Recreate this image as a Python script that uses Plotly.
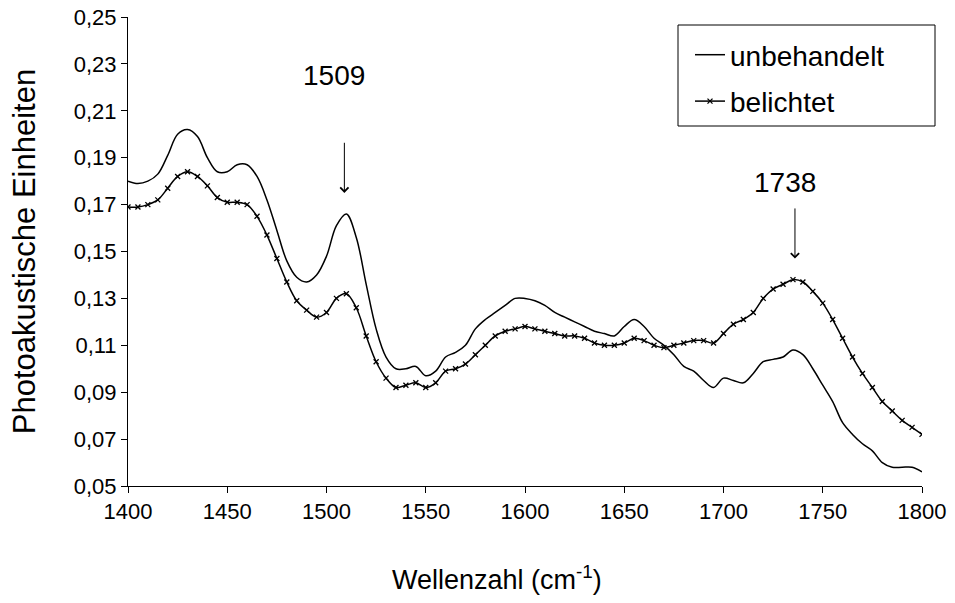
import plotly.graph_objects as go

wavenumber = list(range(1400, 1801, 5))

unbehandelt = [
    0.180, 0.179, 0.180, 0.183, 0.191, 0.200, 0.202, 0.199, 0.190, 0.184,
    0.184, 0.187, 0.187, 0.182, 0.172, 0.159, 0.146, 0.139, 0.137, 0.140,
    0.148, 0.161, 0.166, 0.156, 0.136, 0.117, 0.105, 0.100, 0.100, 0.101,
    0.097, 0.099, 0.105, 0.107, 0.110, 0.117, 0.121, 0.124, 0.127, 0.130,
    0.130, 0.129, 0.127, 0.124, 0.122, 0.120, 0.118, 0.116, 0.115, 0.114,
    0.118, 0.121, 0.118, 0.113, 0.110, 0.106, 0.101, 0.099, 0.095, 0.092,
    0.096, 0.095, 0.094, 0.098, 0.103, 0.104, 0.105, 0.108, 0.106, 0.100,
    0.093, 0.086, 0.077, 0.072, 0.068, 0.065, 0.060, 0.058, 0.058, 0.058,
    0.056,
]

belichtet = [
    0.169, 0.169, 0.170, 0.172, 0.177, 0.182, 0.184, 0.182, 0.178, 0.173,
    0.171, 0.171, 0.170, 0.165, 0.157, 0.147, 0.137, 0.129, 0.125, 0.122,
    0.124, 0.130, 0.132, 0.126, 0.114, 0.103, 0.096, 0.092, 0.093, 0.094,
    0.092, 0.094, 0.099, 0.100, 0.102, 0.106, 0.110, 0.114, 0.116, 0.117,
    0.118, 0.117, 0.116, 0.115, 0.114, 0.114, 0.113, 0.111, 0.110, 0.110,
    0.111, 0.113, 0.112, 0.110, 0.109, 0.110, 0.111, 0.112, 0.112, 0.111,
    0.115, 0.119, 0.121, 0.124, 0.130, 0.134, 0.136, 0.138, 0.137, 0.133,
    0.128, 0.121, 0.113, 0.105, 0.098, 0.092, 0.086, 0.082, 0.078, 0.075,
    0.072,
]

x_ticks = [1400, 1450, 1500, 1550, 1600, 1650, 1700, 1750, 1800]
y_ticks = [0.05, 0.07, 0.09, 0.11, 0.13, 0.15, 0.17, 0.19, 0.21, 0.23, 0.25]

peaks = [1509, 1736]
peak_labels = ["1509", "1738"]
arrow_tips = [0.175, 0.147]
arrow_tails = [0.197, 0.169]
label_y = [0.225, 0.1795]

FONT = "Liberation Sans, Arial, sans-serif"

fig = go.Figure()
fig.add_trace(go.Scatter(
    x=wavenumber, y=unbehandelt, name="unbehandelt", mode="lines",
    line=dict(color="black", width=1.5, shape="spline"),
    legendgroup="a",
))
fig.add_trace(go.Scatter(
    x=wavenumber, y=belichtet, name="belichtet", mode="lines+markers",
    line=dict(color="black", width=1.5, shape="spline"),
    marker=dict(symbol="x-thin", size=5, line=dict(color="black", width=1.3)),
    legendgroup="b",
))

for px, lab, tip, tail, ly in zip(peaks, peak_labels, arrow_tips, arrow_tails, label_y):
    fig.add_annotation(x=px, y=ly, text=lab, showarrow=False,
                       font=dict(size=28, color="black", family=FONT),
                       xshift=-10)
    fig.add_annotation(x=px, y=tip, ax=px, ay=tail, axref="x", ayref="y",
                       text="", showarrow=True, arrowhead=4, arrowsize=1.6,
                       arrowwidth=1, arrowcolor="black")

fig.add_annotation(
    xref="paper", yref="paper", x=0.465, y=-0.196,
    xanchor="center", yanchor="middle", showarrow=False,
    text="Wellenzahl (cm<sup>-1</sup>)",
    font=dict(size=27, color="black", family=FONT),
)

# legend frame
fig.add_shape(
    type="rect", xref="paper", yref="paper",
    x0=(678 - 128) / 794, x1=(935 - 128) / 794,
    y0=(486 - 126) / 469, y1=(486 - 25) / 469,
    line=dict(color="black", width=1), fillcolor="white", layer="above",
)

fig.update_layout(
    width=955, height=603,
    margin=dict(l=128, r=33, t=17, b=117, autoexpand=False),
    paper_bgcolor="white", plot_bgcolor="white",
    separators=",.",
    font=dict(family=FONT, size=22, color="black"),
    showlegend=True,
    legend=dict(
        x=(690 - 128) / 794, y=(486 - 30) / 469, xanchor="left", yanchor="top",
        borderwidth=0, bgcolor="rgba(0,0,0,0)",
        font=dict(size=28, family=FONT),
        tracegroupgap=7, traceorder="grouped",
    ),
    xaxis=dict(
        range=[1400, 1800], tickvals=x_ticks, automargin=False,
        showline=True, linecolor="black", linewidth=1,
        ticks="outside", ticklen=6, tickcolor="black",
        showgrid=False, zeroline=False,
    ),
    yaxis=dict(
        range=[0.05, 0.25], tickvals=y_ticks, tickformat=".2f", automargin=False,
        showline=True, linecolor="black", linewidth=1,
        ticks="outside", ticklen=6, tickcolor="black",
        showgrid=False, zeroline=False,
        title=dict(text="Photoakustische Einheiten", font=dict(size=31), standoff=28),
    ),
)

fig.write_html("out.html", config={"displayModeBar": False},
               post_script="document.body.style.margin='0px';")
